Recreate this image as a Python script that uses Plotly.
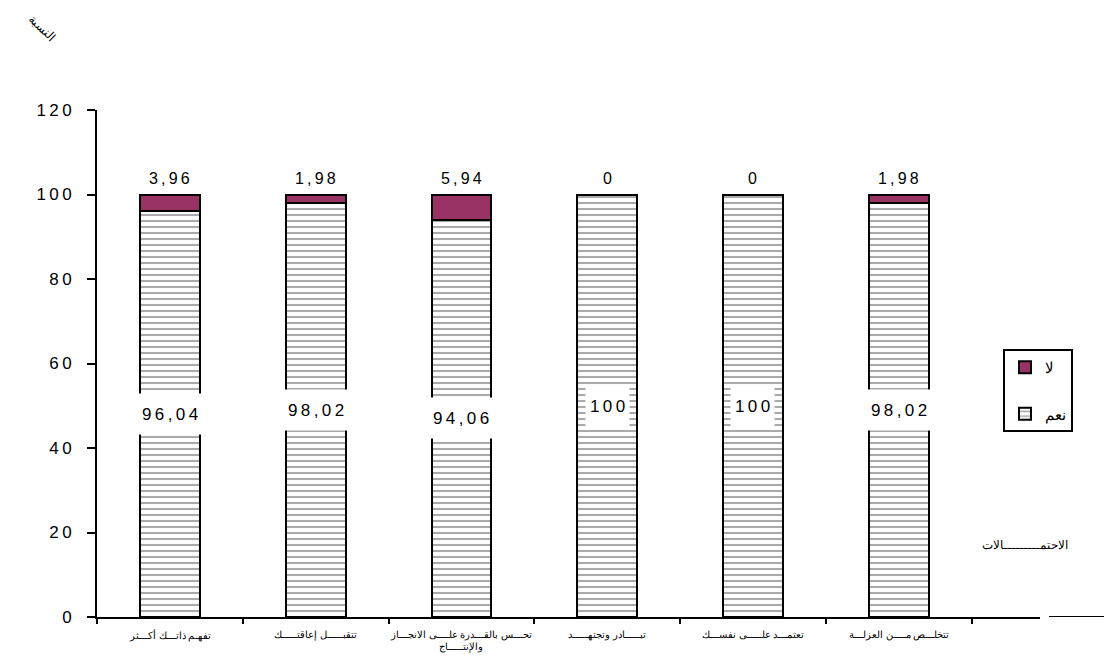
import plotly.graph_objects as go

categories = [
    "تفهـم ذاتـــك أكـــثر",
    "تتقبـــــل إعاقتـــــك",
    "تحـــس بالقـــدرة علــــى الانجـــاز<br>والإنتـــــاج",
    "تبـــــادر وتجتهـــــد",
    "تعتمـــد علـــــى نفســـك",
    "تتخلـــص مــــن العزلـــة",
]
yes_values = [96.04, 98.02, 94.06, 100, 100, 98.02]
no_values = [3.96, 1.98, 5.94, 0, 0, 1.98]
y_ticks = [0, 20, 40, 60, 80, 100, 120]
series_names = ["نعم", "لا"]

FONT = "Liberation Sans Narrow, Arial Narrow, Liberation Sans, Arial, sans-serif"
AR = "Liberation Sans, Arial, sans-serif"
TS = "\u2009"


def spaced(s):
    return TS.join(list(s))


def fmt(v):
    s = f"{v:.2f}".rstrip("0").rstrip(".")
    return s.replace(".", ",")


def px(xpage):
    return (xpage - 97) / 943


def py(ypage):
    return (617 - ypage) / 507


xs = list(range(len(categories)))

fig = go.Figure()
fig.add_trace(go.Bar(
    x=xs, y=yes_values, name=series_names[0], width=0.41,
    marker=dict(color="white", line=dict(color="black", width=2),
                pattern=dict(shape="-", fgcolor="#555555", bgcolor="white",
                             size=6, solidity=0.35)),
    legendgroup="a", legendrank=2,
))
fig.add_trace(go.Bar(
    x=xs, y=no_values, name=series_names[1], width=0.41,
    marker=dict(color="#993366", line=dict(color="black", width=2)),
    legendgroup="b", legendrank=1,
))

ann = []
for i, (y, n) in enumerate(zip(yes_values, no_values)):
    ann.append(dict(x=i, y=y / 2, xref="x", yref="y", text=spaced(fmt(y)),
                    showarrow=False, bgcolor="white", borderpad=4, height=32,
                    font=dict(family=FONT, size=17, color="black")))
    ann.append(dict(x=i, y=y + n, xref="x", yref="y", text=spaced(fmt(n)),
                    showarrow=False, yanchor="bottom", yshift=6,
                    font=dict(family=FONT, size=16, color="black")))
for i, c in enumerate(categories):
    ann.append(dict(x=i, y=0, xref="x", yref="y", text=c, showarrow=False,
                    yanchor="top", yshift=-10,
                    font=dict(family=AR, size=9.5, color="black")))
ann.append(dict(x=px(42), y=py(28), xref="paper", yref="paper", text="النسبة",
                showarrow=False, textangle=45, xanchor="center", yanchor="middle",
                font=dict(family=AR, size=12, color="black")))
ann.append(dict(x=px(1025), y=py(545), xref="paper", yref="paper",
                text="الاحتمـــــــــالات", showarrow=False,
                xanchor="center", yanchor="middle",
                font=dict(family=AR, size=12, color="black")))

fig.update_layout(
    width=1104, height=661,
    margin=dict(l=89, r=72, t=102, b=52),
    paper_bgcolor="white", plot_bgcolor="white",
    barmode="stack",
    showlegend=True,
    legend=dict(x=px(1003), y=py(349), xanchor="left", yanchor="top",
                bordercolor="black", borderwidth=2, bgcolor="white",
                traceorder="grouped", tracegroupgap=24,
                font=dict(family=AR, size=15, color="black"),
                itemwidth=30),
    annotations=ann,
    shapes=[dict(type="line", xref="paper", yref="y", x0=px(1049), x1=px(1112),
                 y0=0, y1=0, line=dict(color="black", width=2))],
    font=dict(family=FONT, color="black"),
)
fig.update_xaxes(range=[-0.5, 5.97], tickmode="array",
                 tickvals=[i - 0.5 for i in range(len(categories) + 1)],
                 ticktext=[""] * (len(categories) + 1),
                 ticks="outside", ticklen=5, tickwidth=2, tickcolor="black",
                 showline=True, linecolor="black", linewidth=2,
                 showgrid=False, zeroline=False, fixedrange=True)
fig.update_yaxes(range=[0, 120], tickmode="array", tickvals=y_ticks,
                 ticktext=[spaced(str(t)) for t in y_ticks],
                 ticks="outside", ticklen=8, tickwidth=2, tickcolor="black",
                 showline=True, linecolor="black", linewidth=2,
                 showgrid=False, zeroline=False, ticklabelstandoff=12,
                 tickfont=dict(family=FONT, size=17, color="black"))

fig.write_html("out.html")
